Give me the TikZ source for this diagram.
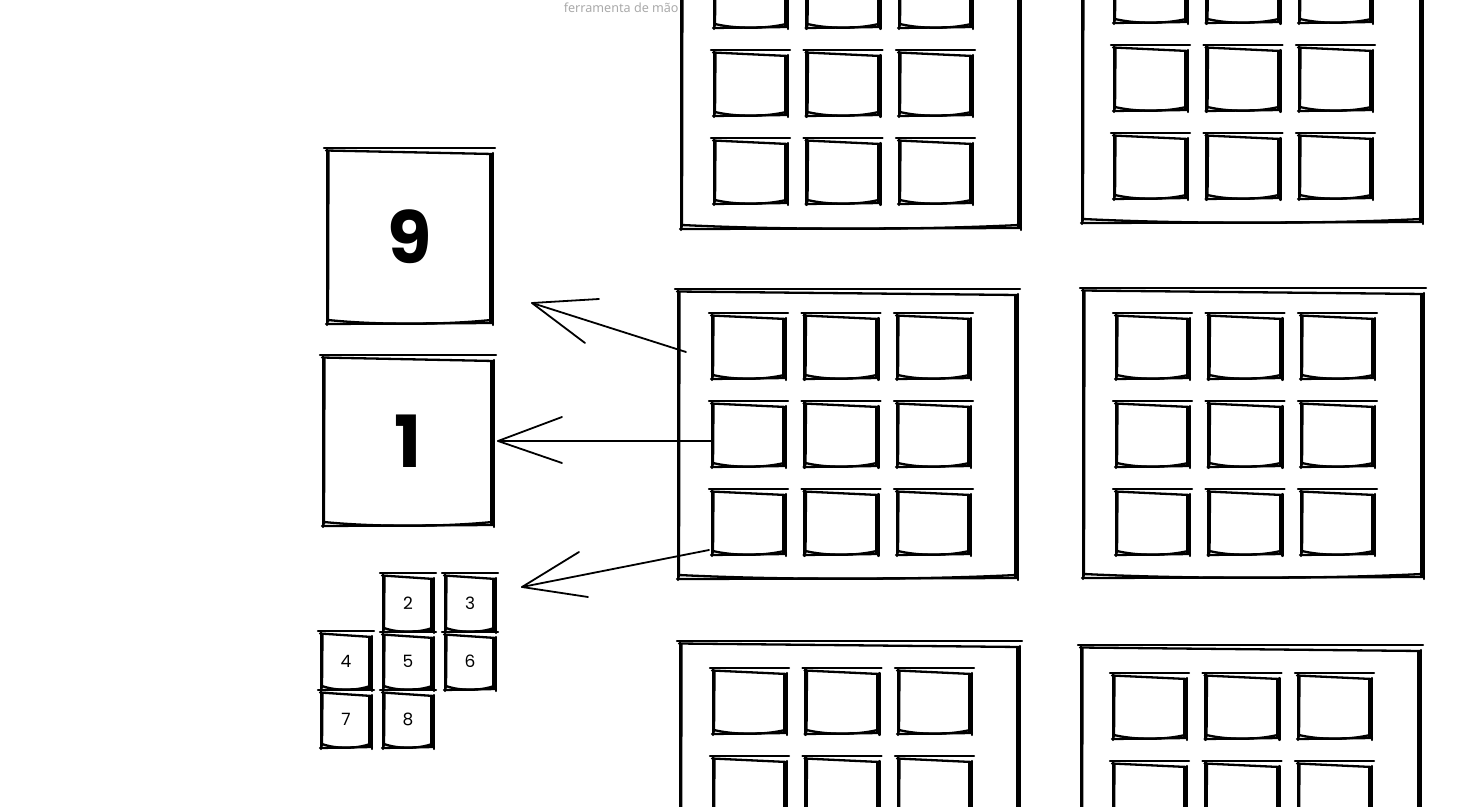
\documentclass[tikz,border=0pt]{standalone}
\usepackage{fontspec}
\setmainfont{Poppins}
\newfontfamily\uifont{Noto Sans}
\usetikzlibrary{calc,fit}
\definecolor{lblgray}{RGB}{170,170,170}
\tikzset{
  skl/.style={line width=1.15pt, line cap=round, line join=round, black},
  arl/.style={line width=0.9pt, line cap=round, line join=round, black},
  boxn/.style={inner sep=0pt, outer sep=0pt, draw=none},
  bignum/.style={font=\fontsize{36}{36}\selectfont\bfseries},
  smallnum/.style={font=\fontsize{8.5}{9}\selectfont},
}
\newcommand\skrect[1]{%
  \draw[skl] ($(#1.north west)+(-3,-2)$) -- ($(#1.north east)+(3,-2)$);
  \draw[skl] ($(#1.north west)+(-1,0.5)$) -- ($(#1.north east)+(1,4)$);
  \draw[skl] ($(#1.north west)+(0,-1)$) -- ($(#1.south west)+(0,2)$);
  \draw[skl] ($(#1.north west)+(1.5,1)$) -- ($(#1.south west)+(1,-1)$);
  \draw[skl] ($(#1.north east)+(1,3)$) -- ($(#1.south east)+(1,2)$);
  \draw[skl] ($(#1.north east)+(-1.5,5)$) -- ($(#1.south east)+(-1.5,-1)$);
  \draw[skl] ($(#1.south west)+(-1,1)$) -- ($(#1.south east)+(1,0)$);
  \draw[skl] ($(#1.south west)+(1,-3)$) .. controls ($(#1.south west)!0.3!(#1.south east)+(0,2)$) and ($(#1.south west)!0.7!(#1.south east)+(0,2)$) .. ($(#1.south east)+(-1,-3)$);
}
\newcommand\skpanel[7]{%
  \node[boxn, fit={(#2,#3) (#4,#5)}] (#1) {};
  \skrect{#1}
  \foreach \r in {1,2,3}{\foreach \c in {1,2,3}{
    \pgfmathsetmacro\xa{#6+(\c-1)*92.5}
    \pgfmathsetmacro\ya{#7+(\r-1)*88}
    \pgfmathsetmacro\xb{\xa+73}
    \pgfmathsetmacro\yb{\ya+63}
    \node[boxn, fit={(\xa,\ya) (\xb,\yb)}] (#1\r\c) {};
    \skrect{#1\r\c}
  }}
}
\newcommand\skbox[6]{%
  \node[boxn, fit={(#2,#3) (#4,#5)}] (#1) {};
  \node[inner sep=0pt, anchor=center] (#1txt) at (#1.center) {#6};
  \skrect{#1}
}
\begin{document}
\begin{tikzpicture}[x=0.5pt, y=-0.5pt]
\useasboundingbox (0,0) rectangle (1460,807);
\clip (0,0) rectangle (1460,807);
\fill[white] (0,0) rectangle (1460,807);

\node[anchor=east, text=lblgray, font=\uifont\fontsize{6.3}{7}\selectfont, inner sep=0pt] (lbl) at (679,8) {ferramenta de mão};

% panels
\skpanel{TL}{681}{-61}{1020}{228}{714}{-36}
\skpanel{TR}{1082}{-67}{1422}{222}{1114}{-41}
\skpanel{ML}{678}{291}{1017}{578}{712}{315}
\skpanel{MR}{1083}{290}{1423}{577}{1116}{315}
\skpanel{BL}{680}{643}{1019}{932}{713}{670}
\skpanel{BR}{1081}{647}{1420}{936}{1113}{675}

% left boxes
\begin{scope}[bignum]
\skbox{nine}{327}{150}{492}{323}{9}
\skbox{one}{323}{357}{493}{525}{1}
\end{scope}
\begin{scope}[smallnum]
\skbox{two}{383}{575}{433}{631}{2}
\skbox{three}{445}{575}{495}{631}{3}
\skbox{four}{321}{633}{371}{689}{4}
\skbox{five}{383}{634}{433}{689}{5}
\skbox{six}{445}{634}{495}{689}{6}
\skbox{seven}{321}{692}{371}{747}{7}
\skbox{eight}{383}{692}{433}{747}{8}
\end{scope}

% arrows
\coordinate (t1) at ($(nine.south east)+(40,-20)$);
\draw[arl] ($(ML.north west)+(8,61)$) -- (t1);
\draw[arl] ($(t1)+(67,-4)$) -- (t1) -- ($(t1)+(53,40)$);

\coordinate (t2) at ($(one.east)+(5,0)$);
\draw[arl] (ML21.west |- t2) -- (t2);
\draw[arl] ($(t2)+(64,-24)$) -- (t2) -- ($(t2)+(64,22)$);

\coordinate (t3) at ($(three.east)+(27,-16)$);
\draw[arl] ($(ML31.south west)+(-3,-4)$) -- (t3);
\draw[arl] ($(t3)+(57,-35)$) -- (t3) -- ($(t3)+(66,10)$);
\end{tikzpicture}
\end{document}
